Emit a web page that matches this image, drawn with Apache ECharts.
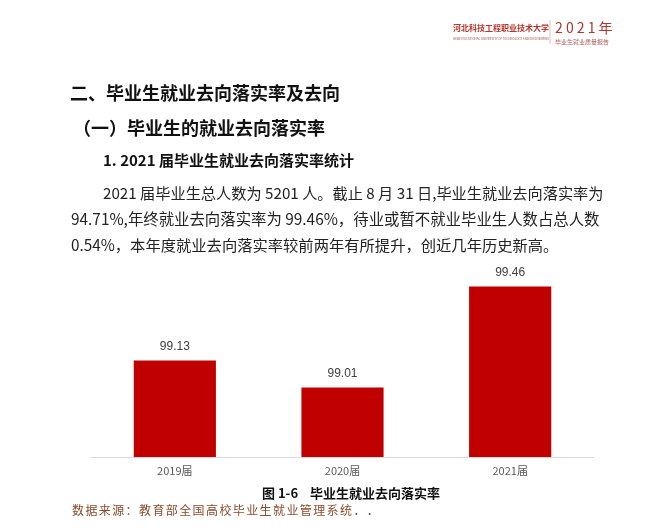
<!DOCTYPE html>
<html><head><meta charset="utf-8">
<script src="https://cdn.jsdelivr.net/npm/echarts@6/dist/echarts.min.js"></script>
<style>html,body{margin:0;padding:0;background:#fff}#c{width:664px;height:528px}</style>
</head><body><div id="c"></div>
<script>
var categories = ['2019届', '2020届', '2021届'];
var rates = [99.13, 99.01, 99.46];
var yMin = 98.7, yMax = 99.6;

var CJK = '"Noto Sans CJK SC", "Noto Sans", sans-serif';
function t(x, y, text, size, weight, fill, extra) {
  var s = {x: x, y: y, text: text, fontSize: size, fontWeight: weight || 'normal',
    fontFamily: CJK, fill: fill || '#1a1a1a', verticalAlign: 'middle'};
  if (extra) for (var k in extra) s[k] = extra[k];
  return {type: 'text', style: s, silent: true};
}
var red = '#b2332b';
var graphics = [
  t(453, 28, '河北科技工程职业技术大学', 8, 'bold', red),
  t(453, 39, 'HEBEI VOCATIONAL UNIVERSITY OF TECHNOLOGY AND ENGINEERING', 3, 'normal', '#a05050'),
  {type: 'line', shape: {x1: 550, y1: 20, x2: 550, y2: 44}, style: {stroke: '#e0c0c0', lineWidth: 1}, silent: true},
  t(555, 28, '2 0 2 1 年', 14, 'normal', red),
  t(555, 42, '毕业生就业质量报告', 6, 'normal', '#b06060'),
  t(70, 93, '二、毕业生就业去向落实率及去向', 18, 'bold', '#111'),
  t(73, 128, '（一）毕业生的就业去向落实率', 18, 'bold', '#111'),
  t(103, 160, '1. 2021 届毕业生就业去向落实率统计', 15, 'bold', '#111'),
  t(103, 193, '2021 届毕业生总人数为 5201 人。截止 8 月 31 日,毕业生就业去向落实率为', 15.2, 'normal', '#222'),
  t(71, 219, '94.71%,年终就业去向落实率为 99.46%，待业或暂不就业毕业生人数占总人数', 15.4, 'normal', '#222'),
  t(71, 245, '0.54%，本年度就业去向落实率较前两年有所提升，创近几年历史新高。', 15.3, 'normal', '#222'),
  t(262, 493, '图 1-6    毕业生就业去向落实率', 13, 'bold', '#111')
];
var src = '数据来源：教育部全国高校毕业生就业管理系统．．';
for (var i = 0; i < src.length; i++) {
  graphics.push(t(72 + i * 13.4, 510, src[i], 12, 'normal', '#8a4b2a'));
}

var chart = echarts.init(document.getElementById('c'), null, {renderer: 'canvas'});
chart.setOption({
  animation: false,
  grid: {left: 91, right: 70, top: 255, bottom: 71},
  xAxis: {
    type: 'category', data: categories,
    axisLine: {lineStyle: {color: '#d9d9d9'}},
    axisTick: {show: false},
    axisLabel: {color: '#595959', fontSize: 11, margin: 8, fontFamily: CJK}
  },
  yAxis: {type: 'value', min: yMin, max: yMax, show: false, splitLine: {show: false}},
  series: [{
    type: 'bar', data: rates, barWidth: '49%',
    itemStyle: {color: '#c00000'},
    label: {show: true, position: 'top', distance: 8, color: '#404040', fontSize: 12,
      fontFamily: '"Liberation Sans", sans-serif', formatter: function (p) { return p.value.toFixed(2); }}
  }],
  graphic: graphics
});
</script></body></html>
